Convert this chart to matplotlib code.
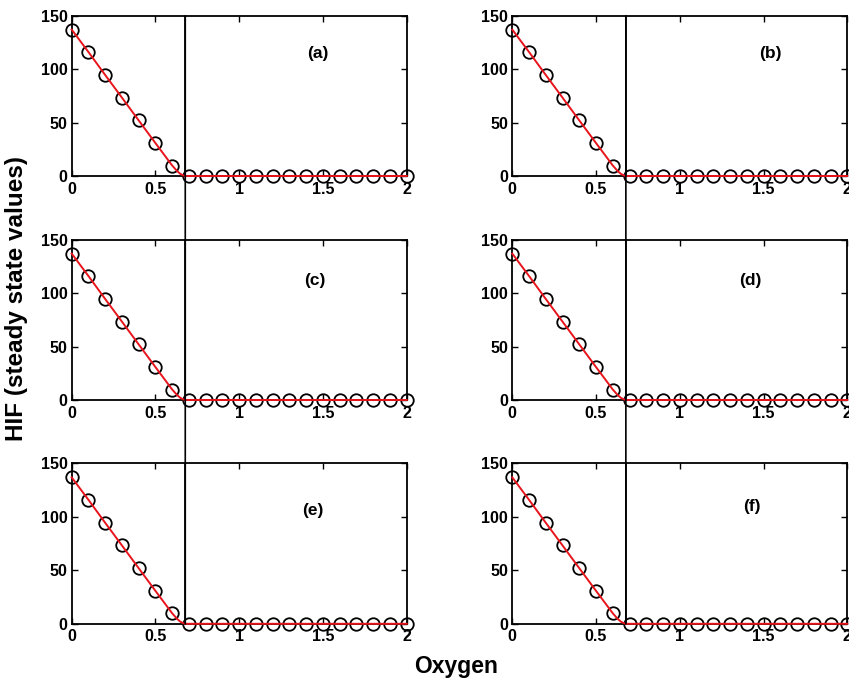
import matplotlib
matplotlib.use("Agg")
import matplotlib.pyplot as plt
from matplotlib import font_manager
from matplotlib.font_manager import FontProperties
from matplotlib.patches import ConnectionPatch

# pick regular-width Liberation Sans Bold (avoid Narrow)
bold_file = None
for f in font_manager.fontManager.ttflist:
    if f.name == 'Liberation Sans' and 'Narrow' not in f.fname and f.weight in (700, 'bold') \
            and f.style == 'normal':
        bold_file = f.fname
        break

def fp(size):
    if bold_file:
        return FontProperties(fname=bold_file, size=size)
    return FontProperties(family='DejaVu Sans', weight='bold', size=size)

# Data
oxygen = [0.0, 0.1, 0.2, 0.3, 0.4, 0.5, 0.6, 0.7, 0.8, 0.9, 1.0, 1.1, 1.2,
          1.3, 1.4, 1.5, 1.6, 1.7, 1.8, 1.9, 2.0]
hif = [137, 116, 94.5, 73.3, 52, 30.8, 9.8, 0, 0, 0, 0, 0, 0, 0, 0, 0, 0, 0, 0, 0, 0]
curve_x = [0.0, 0.1, 0.2, 0.3, 0.4, 0.5, 0.6, 0.63, 0.65, 0.67, 0.68, 2.0]
curve_y = [137, 116, 94.5, 73.3, 52, 30.8, 9.8, 4.5, 1.8, 0.3, 0, 0]
threshold = 0.678
panel_labels = ['(a)', '(b)', '(c)', '(d)', '(e)', '(f)']
label_pos = [(1.47, 115), (1.54, 115), (1.45, 112), (1.42, 112), (1.44, 106), (1.43, 110)]
xticks = [0, 0.5, 1, 1.5, 2]
xticklabels = ['0', '0.5', '1', '1.5', '2']
yticks = [0, 50, 100, 150]
yticklabels = ['0', '50', '100', '150']

W, H = 849, 685
fig = plt.figure(figsize=(W / 100, H / 100), dpi=100)

col_left = [71.7, 512.3]
col_width = 335.0
row_top = [15.7, 239.7, 463.5]
row_height = 160.3

axes = []
for r in range(3):
    for c in range(2):
        ax = fig.add_axes([col_left[c] / W, 1 - (row_top[r] + row_height) / H,
                           col_width / W, row_height / H])
        ax.plot(oxygen, hif, linestyle='none', marker='o', markersize=9,
                markerfacecolor='none', markeredgecolor='black',
                markeredgewidth=1.3, clip_on=False, zorder=3)
        ax.plot(curve_x, curve_y, color='#e8141b', linewidth=1.4, clip_on=False, zorder=4)
        ax.axvline(threshold, color='black', linewidth=1.2, zorder=2)
        ax.set_xlim(0, 2)
        ax.set_ylim(0, 150)
        ax.set_xticks(xticks)
        ax.set_xticklabels(xticklabels, fontproperties=fp(11.5))
        ax.set_yticks(yticks)
        ax.set_yticklabels(yticklabels, fontproperties=fp(11.5))
        ax.tick_params(axis='x', direction='in', top=True, length=4, width=1.0, pad=4)
        ax.tick_params(axis='y', direction='in', right=True, length=4, width=1.0, pad=3)
        for sp in ax.spines.values():
            sp.set_linewidth(1.3)
        idx = r * 2 + c
        ax.text(label_pos[idx][0], label_pos[idx][1], panel_labels[idx],
                ha='center', va='center', fontproperties=fp(12.5))
        axes.append(ax)

# vertical threshold line spanning each column
for c in range(2):
    con = ConnectionPatch(xyA=(threshold, 150), coordsA=axes[c].transData,
                          xyB=(threshold, 0), coordsB=axes[4 + c].transData,
                          color='black', linewidth=1.2)
    fig.add_artist(con)

fig.text(17 / W, 1 - 298 / H, 'HIF (steady state values)', rotation=90,
         ha='center', va='center', fontproperties=fp(17.5))
fig.text(456 / W, 1 - 667 / H, 'Oxygen', ha='center', va='center',
         fontproperties=fp(16.5))

fig.savefig('out.png', dpi=100)
